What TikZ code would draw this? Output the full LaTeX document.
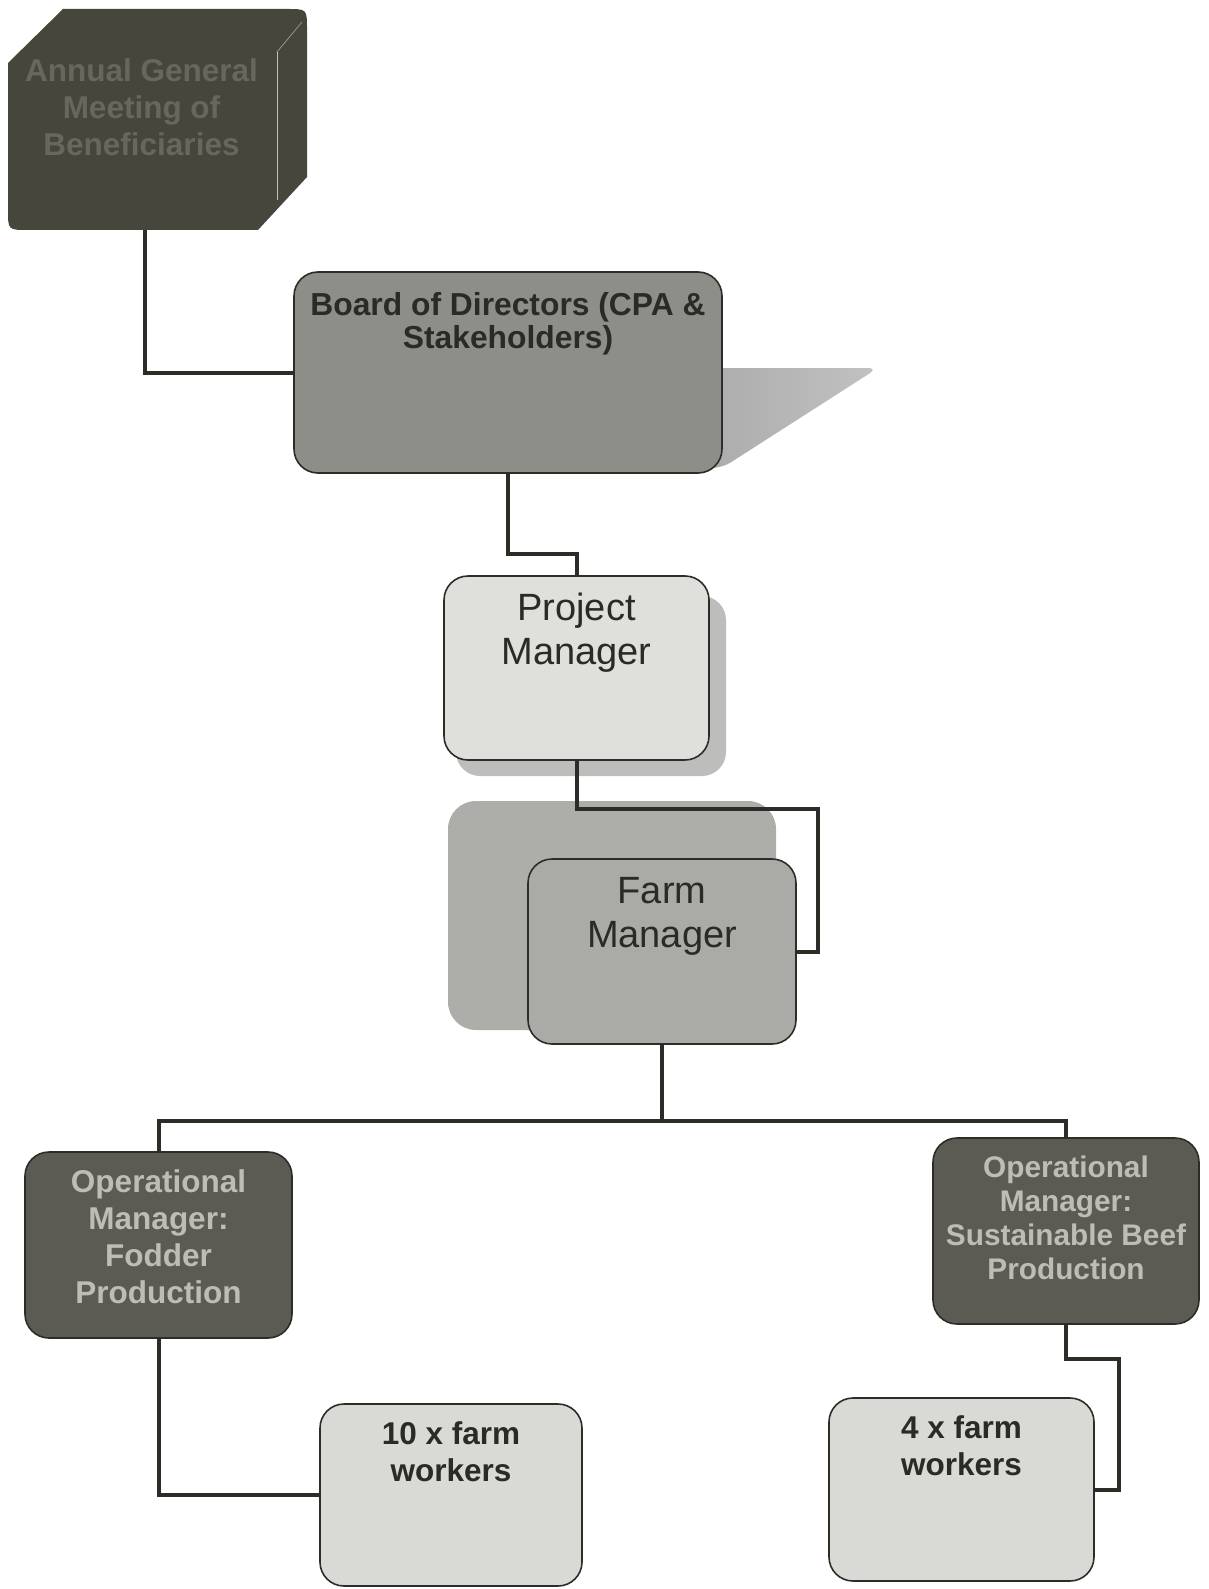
\documentclass[tikz,border=0pt]{standalone}
\usepackage{fontspec}
\setmainfont{Liberation Sans}
\usetikzlibrary{positioning}
\definecolor{agmfill}{HTML}{46463D}
\definecolor{agmink}{HTML}{67675D}
\definecolor{opfill}{HTML}{5B5B53}
\definecolor{opink}{HTML}{BDBDB5}
\definecolor{boardfill}{HTML}{8E8E89}
\definecolor{pmfill}{HTML}{DFDFDB}
\definecolor{fmfill}{HTML}{AAAAA6}
\definecolor{workfill}{HTML}{D9D9D5}
\definecolor{shadowgray}{HTML}{B6B6B3}
\definecolor{linegray}{HTML}{2D2D28}
\definecolor{inkgray}{HTML}{2A2A26}

\begin{document}
\begin{tikzpicture}[x=1pt,y=-1pt,
  box/.style={draw=linegray, line width=1.6pt, rounded corners=24pt, inner sep=0pt},
  link/.style={draw=linegray, line width=4pt},
  boldlbl/.style={font=\fontsize{31.5}{37}\selectfont\bfseries, align=center, inner sep=0pt, text=inkgray},
  plainlbl/.style={font=\fontsize{38}{44}\selectfont, align=center, inner sep=0pt, text=inkgray}]
\useasboundingbox (0,0) rectangle (1208,1589);

% shadows behind the boxes
\shade[left color=black!33, right color=black!24, rounded corners=10pt]
  (700,368) -- (878,368) -- (722,468) -- (700,468) -- cycle;
\fill[shadowgray!90, rounded corners=24pt] (456,596) rectangle (726,776);
\fill[shadowgray!95!black, rounded corners=28pt] (448,801) rectangle (776,1030);

% annual general meeting (cube shape)
\node[inner sep=0pt, minimum width=299pt, minimum height=222pt] (agm) at (157.5,119) {};
\fill[agmfill] (8,63) -- (63,9) -- (287,9) .. controls (307,9) .. (307,29)
  -- (307,177) -- (258,230) -- (28,230) .. controls (8,230) .. (8,210) -- cycle;
\draw[agmink!70, line width=0.8pt] (277,52) -- (302,22);
\draw[agmink!40, line width=0.8pt] (277,52) -- (277,200);
\node[boldlbl, text=agmink, below=51pt of agm.north, xshift=-16pt] (agmtxt)
  {Annual General\\Meeting of\\Beneficiaries};

% board and managers
\node[box, fill=boardfill, minimum width=428pt, minimum height=201pt] (board) at (508,372.5) {};
\node[boldlbl, font=\fontsize{31.8}{33}\selectfont\bfseries, below=21pt of board.north] (boardtxt)
  {Board of Directors (CPA \&\\Stakeholders)};

\node[box, fill=pmfill, minimum width=265pt, minimum height=184pt] (pm) at (576.5,668) {};
\node[plainlbl, below=18pt of pm.north] (pmtxt) {Project\\Manager};

\node[box, fill=fmfill, minimum width=268pt, minimum height=185pt] (fm) at (662,951.5) {};
\node[plainlbl, below=19pt of fm.north] (fmtxt) {Farm\\Manager};

% operational managers
\node[box, fill=opfill, minimum width=267pt, minimum height=186pt] (opfodder) at (158.5,1245) {};
\node[boldlbl, text=opink, below=18pt of opfodder.north] (opfoddertxt)
  {Operational\\Manager:\\Fodder\\Production};

\node[box, fill=opfill, minimum width=266pt, minimum height=186pt] (opbeef) at (1066,1231) {};
\node[boldlbl, text=opink, font=\fontsize{29.8}{34}\selectfont\bfseries, below=18pt of opbeef.north] (opbeeftxt)
  {Operational\\Manager:\\Sustainable Beef\\Production};

% farm workers
\node[box, fill=workfill, minimum width=262pt, minimum height=182pt] (workten) at (451,1495) {};
\node[boldlbl, below=18pt of workten.north] (worktentxt) {10 x farm\\workers};

\node[box, fill=workfill, minimum width=265pt, minimum height=183pt] (workfour) at (961.5,1489.5) {};
\node[boldlbl, below=18pt of workfour.north] (workfourtxt) {4 x farm\\workers};

% connectors
\draw[link] ([xshift=-13pt]agm.south) |- (board.west);
\draw[link] (board.south) -- ++(0,80) -| (pm.north);
\draw[link] (pm.south) -- ++(0,48) -| ([xshift=21pt]fm.east) -- (fm.east);
\draw[link] (fm.south) -- ++(0,76) coordinate (bus);
\draw[link] (opfodder.north) |- (bus) -| (opbeef.north);
\draw[link] (opfodder.south) |- (workten.west);
\draw[link] (opbeef.south) -- ++(0,34) -| ([xshift=24pt]workfour.east) -- (workfour.east);
\end{tikzpicture}
\end{document}
